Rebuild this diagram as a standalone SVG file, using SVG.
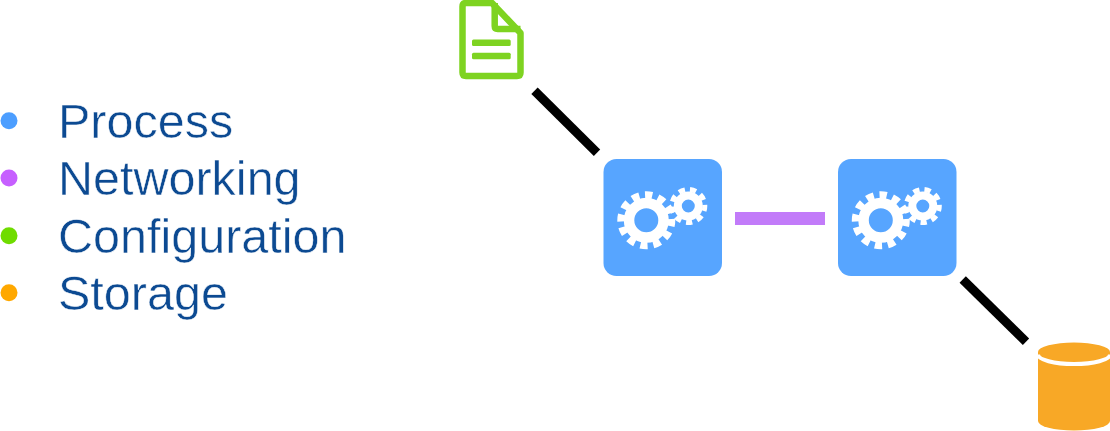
<svg xmlns="http://www.w3.org/2000/svg" width="1110" height="431" viewBox="0 0 1110 431">
<style>
.lbl{font-family:"Liberation Sans",Arial,sans-serif;font-size:48.500px;fill:#0c4a92;stroke:#fff;stroke-width:.5px}
.box{fill:#57a5ff}
.link{stroke:#000;stroke-width:9;fill:none}
.gw{fill:none;stroke:#fff}
</style>
<defs>
<g id="gears">
<rect class="box" x="0" y="0" width="118.500" height="117" rx="13"/>
<circle class="gw" cx="42.800" cy="61.300" r="17.250" stroke-width="10.500"/>
<circle class="gw" cx="42.800" cy="61.300" r="25" stroke-width="8" pathLength="12" stroke-dasharray=".56 .44" stroke-dashoffset=".1"/>
<circle class="gw" cx="84.800" cy="47" r="10.500" stroke-width="8"/>
<circle class="gw" cx="84.800" cy="47" r="16.500" stroke-width="5" pathLength="9" stroke-dasharray=".55 .45" stroke-dashoffset=".1"/>
</g>
</defs>
<g id="legend">
<circle cx="9" cy="120.700" r="8.500" fill="#4c9eff"/><text class="lbl" x="58" y="137.700">Process</text>
<circle cx="9" cy="178" r="8.500" fill="#c65fff"/><text class="lbl" x="58" y="195">Networking</text>
<circle cx="9" cy="235.700" r="8.500" fill="#6fdc00"/><text class="lbl" x="58" y="252.700">Configuration</text>
<circle cx="9" cy="292.700" r="8.500" fill="#ffa800"/><text class="lbl" x="58" y="310">Storage</text>
</g>
<g id="connectors">
<line class="link" x1="534.500" y1="90.700" x2="597" y2="152.700"/>
<rect x="735" y="212" width="90" height="13" fill="#c27bf9"/>
<line class="link" x1="962.700" y1="279.500" x2="1026" y2="341.700"/>
</g>
<g id="config-file">
<path d="M466,3H492L520.500,33V72.500Q520.500,76 517,76H466Q462.500,76 462.500,72.500V6.500Q462.500,3 466,3Z" fill="#fff" stroke="#7ed321" stroke-width="6.500" stroke-linejoin="round"/>
<path d="M494.700,3V26Q494.700,29 497.700,29H520.500" fill="none" stroke="#7ed321" stroke-width="6.500"/>
<rect x="472" y="39.500" width="38.700" height="6.500" rx="1.500" fill="#7ed321"/>
<rect x="472" y="52.800" width="38.700" height="6.500" rx="1.500" fill="#7ed321"/>
</g>
<g id="process-1"><use href="#gears" x="603.500" y="159"/></g>
<g id="process-2"><use href="#gears" x="838" y="159"/></g>
<g id="storage">
<path d="M1038,352V421A36,9.500 0 0 0 1110,421V352Z" fill="#f8a826"/>
<ellipse cx="1074" cy="352" rx="36" ry="9.500" fill="#f8a826"/>
<path d="M1038,354.500A36,9.500 0 0 0 1110,354.500" fill="none" stroke="#fff" stroke-width="4"/>
</g>
</svg>
